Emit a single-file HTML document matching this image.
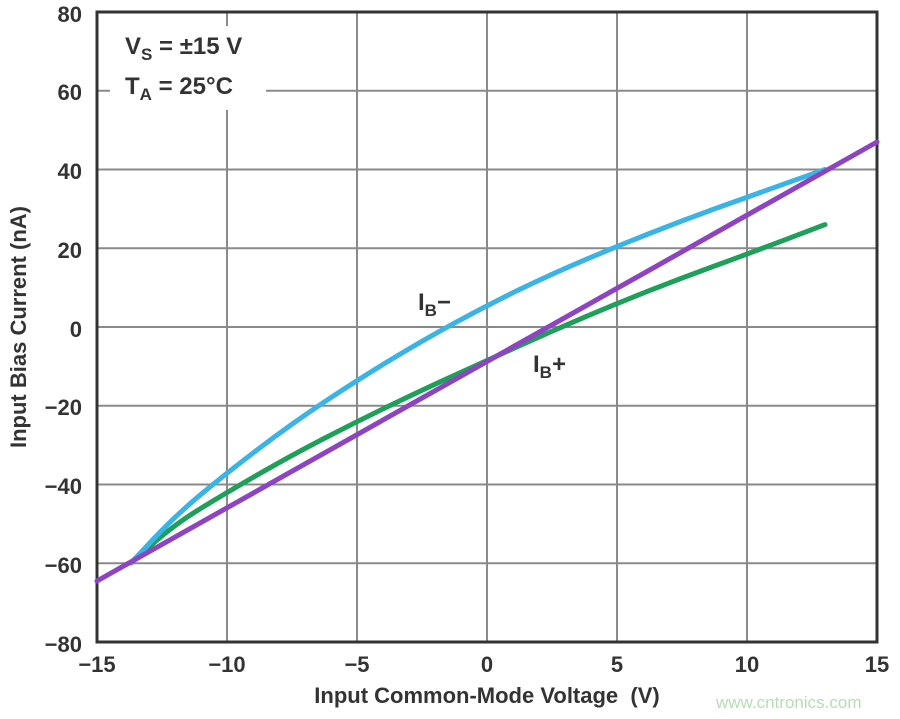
<!DOCTYPE html>
<html><head><meta charset="utf-8"><style>
body{margin:0;background:#fff}
svg{display:block}
text{font-family:"Liberation Sans",Arial,sans-serif;font-weight:bold;fill:#333}
</style></head><body>
<svg width="900" height="719" viewBox="0 0 900 719" xmlns="http://www.w3.org/2000/svg">
<g stroke="#8a8a8a" stroke-width="2" fill="none">
<line x1="227" y1="12" x2="227" y2="642"/><line x1="357" y1="12" x2="357" y2="642"/>
<line x1="487" y1="12" x2="487" y2="642"/><line x1="617" y1="12" x2="617" y2="642"/>
<line x1="747" y1="12" x2="747" y2="642"/>
<line x1="97" y1="90.75" x2="877" y2="90.75"/><line x1="97" y1="169.5" x2="877" y2="169.5"/>
<line x1="97" y1="248.25" x2="877" y2="248.25"/><line x1="97" y1="327" x2="877" y2="327"/>
<line x1="97" y1="405.75" x2="877" y2="405.75"/><line x1="97" y1="484.5" x2="877" y2="484.5"/>
<line x1="97" y1="563.25" x2="877" y2="563.25"/>
</g>
<rect x="110" y="26" width="156" height="84" fill="#fff"/>
<rect x="97" y="12" width="780" height="630" fill="none" stroke="#333" stroke-width="3"/>
<g fill="none" stroke-width="5" stroke-linecap="round" stroke-linejoin="round">
<path d="M131,563 L153,543.5 Q175,524 201,508.2 Q227,492.4 259.5,473.7 Q292,455 324.5,438.25 Q357,421.5 389.5,405.75 Q422,390 454.5,375.25 Q487,360.5 519.5,345.75 Q552,331 584.5,317.2 Q617,303.4 649.5,290.6 Q682,277.8 714.5,266 Q747,254.2 786,239.4 L825,224.6" stroke="#1ea05a"/>
<path d="M131,563 L153,539.5 Q175,516 201,494.35 Q227,472.7 259.5,448.1 Q292,423.5 324.5,401.85 Q357,380.2 389.5,360.5 Q422,340.8 454.5,323.05 Q487,305.3 519.5,289.55 Q552,273.8 584.5,260.05 Q617,246.3 649.5,233.5 Q682,220.7 714.5,208.9 Q747,197.1 786,183.3 L825,169.5" stroke="#3ab4e4"/>
<line x1="97" y1="581" x2="877" y2="142" stroke="#8e44c0"/>
</g>
<g font-size="22" text-anchor="end">
<text x="82" y="22">80</text><text x="82" y="100">60</text><text x="82" y="179">40</text>
<text x="82" y="258">20</text><text x="82" y="337">0</text><text x="82" y="415">−20</text>
<text x="82" y="494">−40</text><text x="82" y="573">−60</text><text x="82" y="652">−80</text>
</g>
<g font-size="22" text-anchor="middle">
<text x="97" y="672">−15</text><text x="227" y="672">−10</text><text x="357" y="672">−5</text>
<text x="487" y="672">0</text><text x="617" y="672">5</text><text x="747" y="672">10</text><text x="877" y="672">15</text>
</g>
<text x="487" y="703" font-size="22" text-anchor="middle">Input Common-Mode Voltage&#160;&#160;(V)</text>
<text transform="translate(26,327) rotate(-90)" font-size="22" text-anchor="middle">Input Bias Current (nA)</text>
<text x="125" y="54" font-size="24">V<tspan font-size="17" dy="6">S</tspan><tspan dy="-6"> = ±15 V</tspan></text>
<text x="125" y="94" font-size="24">T<tspan font-size="17" dy="6">A</tspan><tspan dy="-6"> = 25°C</tspan></text>
<text x="418" y="310" font-size="24">I<tspan font-size="17" dy="6">B</tspan><tspan dy="-6">−</tspan></text>
<text x="533" y="372" font-size="24">I<tspan font-size="17" dy="6">B</tspan><tspan dy="-6">+</tspan></text>
<text x="716" y="708" font-size="17" style="font-weight:normal;fill:#b7dcb7">www.cntronics.com</text>
</svg>
</body></html>
